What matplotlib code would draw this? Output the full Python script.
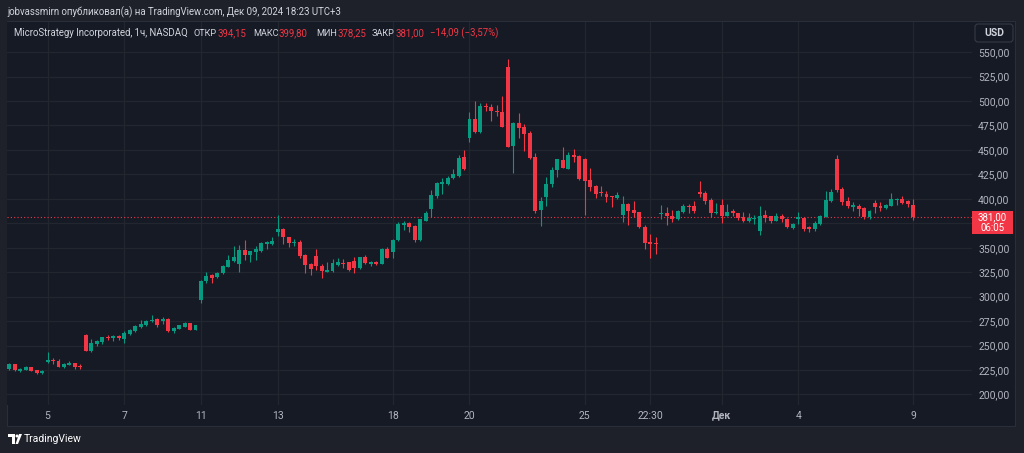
import matplotlib.pyplot as plt
import matplotlib.transforms as mtransforms
from matplotlib.patches import Rectangle, FancyBboxPatch, Polygon, Circle
import numpy as np

plt.rcParams['font.family'] = ['Roboto', 'DejaVu Sans']

# MSTR, 1h bars, Nov 4 - Dec 9 2024
opens = [226.0, 230.8, 224.3, 225.3, 227.7, 224.6, 221.6,
         233.2, 234.9, 234.2, 227.7, 230.1, 232.1, 229.4,
         260.8, 244.4, 251.9, 253.9, 259.1, 258.0, 259.4,
         256.3, 261.5, 264.9, 268.6, 271.0, 274.7, 277.1,
         274.7, 277.1, 264.9, 267.2, 269.3, 273.0, 266.2,
         296.6, 316.0, 322.1, 319.7, 323.8, 330.6, 336.5,
         333.7, 347.4, 342.6, 345.7, 347.0, 353.8, 353.5,
         365.8, 369.2, 360.7, 354.5, 355.9, 342.6, 333.1,
         341.9, 331.7, 325.6, 326.6, 332.4, 334.8, 335.1,
         336.5, 329.0, 340.2, 333.4, 335.8, 333.7, 348.7,
         345.3, 358.3, 373.6, 375.7, 372.3, 357.9, 377.7,
         389.3, 402.9, 414.9, 415.5, 421.3, 423.7, 442.5,
         462.7, 481.4, 468.1, 495.0, 494.4, 489.9, 488.9,
         535.3, 454.2, 478.0, 473.6, 467.4, 442.6, 388.7,
         402.3, 415.0, 429.6, 439.8, 431.0, 445.0, 443.9,
         441.2, 419.4, 413.3, 407.1, 405.4, 403.4, 401.0,
         383.0, 394.8, 388.7, 386.3, 371.7, 356.3, 355.3,
         384.6, 385.5, 382.6, 379.3, 386.2, 393.1, 392.4,
         406.5, 405.7, 398.9, 385.2,
         393.7, 382.5, 387.6, 385.2, 381.1, 377.0, 379.8,
         367.2, 383.5, 382.2, 377.7, 382.5, 379.8, 369.9,
         379.8, 380.1, 370.9, 368.9, 374.3, 381.8, 398.2,
         440.4, 410.4, 398.2, 391.4, 393.1, 391.0, 381.1,
         395.4, 392.7, 390.3, 393.1, 398.9, 399.5, 397.8,
         394.15]
highs = [231.8, 231.5, 227.0, 229.4, 228.4, 225.0, 224.5,
         243.7, 237.3, 236.6, 232.1, 234.2, 232.5, 231.1,
         261.5, 256.3, 255.7, 259.1, 260.4, 261.1, 260.4,
         264.5, 266.6, 270.7, 276.1, 276.1, 280.9, 277.8,
         279.5, 277.8, 269.0, 271.4, 274.1, 273.5, 271.2,
         316.7, 325.5, 323.1, 325.2, 332.0, 342.2, 352.1,
         352.8, 357.6, 346.7, 351.8, 355.5, 357.2, 361.3,
         383.5, 370.5, 361.3, 358.9, 357.9, 343.3, 334.8,
         348.4, 333.1, 335.1, 338.2, 339.2, 338.5, 335.8,
         340.2, 340.9, 342.6, 336.5, 336.8, 349.4, 350.4,
         359.0, 376.0, 377.4, 376.7, 373.3, 379.8, 387.9,
         409.1, 416.9, 421.0, 423.7, 430.2, 444.9, 449.6,
         488.9, 500.2, 497.8, 497.8, 496.7, 496.1, 505.3,
         543.1, 478.7, 488.2, 476.6, 469.5, 446.7, 402.3,
         422.8, 432.3, 440.9, 453.5, 447.7, 450.7, 444.6,
         441.9, 431.3, 414.3, 413.3, 408.5, 403.4, 406.8,
         403.0, 395.5, 397.9, 387.0, 373.4, 364.2, 360.8,
         393.5, 391.7, 389.0, 388.7, 395.2, 395.0, 397.8,
         418.0, 408.4, 400.6, 395.4,
         399.5, 394.8, 389.3, 385.9, 386.2, 385.2, 383.5,
         392.7, 388.6, 382.8, 385.2, 384.5, 380.5, 375.7,
         386.9, 381.8, 372.3, 377.4, 383.5, 408.1, 409.8,
         444.9, 411.8, 402.3, 397.2, 394.4, 392.0, 388.6,
         398.9, 396.5, 394.4, 405.7, 400.6, 402.9, 398.9,
         399.80]
lows = [225.0, 224.3, 223.3, 225.0, 223.6, 221.2, 221.0,
        232.5, 231.1, 228.0, 227.0, 229.8, 226.0, 226.0,
        244.4, 243.7, 249.9, 251.9, 255.7, 255.0, 256.0,
        252.9, 260.8, 264.2, 267.6, 270.0, 274.1, 269.0,
        272.0, 264.2, 263.2, 266.5, 269.0, 265.8, 265.8,
        293.8, 313.6, 314.3, 319.0, 323.1, 330.0, 335.8,
        325.6, 337.5, 335.1, 337.5, 346.0, 348.4, 352.8,
        362.4, 353.8, 350.4, 351.8, 339.2, 323.9, 322.2,
        327.3, 319.4, 324.9, 325.6, 331.4, 329.7, 326.6,
        324.5, 328.0, 333.4, 331.4, 332.4, 333.1, 339.2,
        339.9, 357.3, 368.2, 366.5, 356.2, 357.2, 377.0,
        381.1, 401.2, 405.0, 414.2, 420.3, 422.7, 429.5,
        457.6, 467.8, 467.1, 489.3, 480.0, 484.8, 473.2,
        452.8, 426.9, 462.0, 448.4, 440.5, 386.0, 372.7,
        393.1, 411.9, 422.8, 431.3, 430.6, 438.1, 419.4,
        383.6, 408.1, 400.6, 403.0, 397.2, 392.1, 400.3,
        375.8, 373.4, 381.2, 370.0, 348.5, 339.3, 343.4,
        379.2, 373.4, 375.8, 378.5, 385.2, 385.4, 385.7,
        401.8, 394.8, 381.0, 384.5,
        375.0, 382.2, 382.5, 378.4, 376.3, 376.3, 374.3,
        363.1, 376.7, 375.7, 377.0, 376.3, 369.9, 369.5,
        374.3, 367.5, 365.8, 367.5, 373.0, 381.1, 397.2,
        407.4, 393.7, 390.3, 388.0, 382.5, 379.8, 379.8,
        385.2, 388.0, 389.3, 392.7, 393.7, 394.8, 392.0,
        378.25]
closes = [231.1, 224.6, 226.4, 227.7, 224.0, 221.6, 224.0,
          235.2, 233.9, 228.4, 231.1, 232.5, 228.0, 227.7,
          244.8, 252.9, 254.6, 258.4, 258.0, 259.8, 258.0,
          262.5, 265.5, 270.0, 271.7, 275.4, 276.1, 271.0,
          277.5, 264.9, 267.9, 270.7, 273.4, 266.2, 270.7,
          316.0, 321.1, 319.4, 324.5, 331.3, 337.1, 340.6,
          347.4, 342.6, 346.4, 348.7, 354.5, 355.5, 356.9,
          369.2, 360.7, 355.2, 355.9, 341.6, 332.4, 328.3,
          331.7, 326.2, 327.6, 334.4, 335.4, 333.7, 327.3,
          329.0, 340.2, 334.1, 335.4, 333.4, 348.7, 339.9,
          357.9, 374.3, 375.0, 371.6, 357.9, 379.1, 385.2,
          403.6, 415.9, 417.2, 421.7, 425.1, 441.8, 430.2,
          481.4, 468.1, 495.4, 494.0, 489.3, 488.9, 473.6,
          453.5, 478.0, 472.9, 466.1, 441.5, 387.7, 397.9,
          415.3, 429.6, 440.5, 431.3, 445.0, 443.2, 420.1,
          418.7, 411.9, 405.1, 405.8, 401.7, 402.3, 404.1,
          394.8, 387.7, 385.3, 371.0, 355.3, 354.0, 353.6,
          386.0, 382.6, 379.6, 387.7, 392.6, 391.6, 387.2,
          404.5, 397.6, 385.2, 386.7,
          382.5, 386.2, 385.2, 380.1, 377.0, 380.1, 380.8,
          382.8, 380.1, 377.4, 382.2, 379.8, 370.9, 374.0,
          381.8, 369.2, 369.5, 375.7, 382.2, 398.9, 406.7,
          409.1, 396.8, 392.4, 393.7, 389.7, 381.1, 387.6,
          392.0, 390.3, 393.7, 399.9, 400.2, 396.1, 394.4,
          381.00]

# bar index where each time label sits
tick_bars = [7, 21, 35, 49, 70, 84, 105, 117, 130, 144, 165]
tick_labels = ['5', '7', '11', '13', '18', '20', '25', '22:30', 'Дек', '4', '9']
price_ticks = list(range(200, 551, 25))

change = -14.09
change_pct = -3.57
countdown = '06:05'

W, H = 1024, 453
outer_bg = '#1e212a'
chart_bg = '#161a25'
grid_c = '#22262f'
green = '#089981'
red = '#f23645'
label_c = '#b2b5be'
text_c = '#d1d4dc'


def fmt(v):
    return f"{v:.2f}".replace('.', ',').replace('-', '−')


fig = plt.figure(figsize=(W / 100, H / 100), dpi=100, facecolor=outer_bg)

# chart panel behind everything (pixel coords)
bg = fig.add_axes([0, 0, 1, 1], zorder=0)
bg.set_xlim(0, W)
bg.set_ylim(H, 0)
bg.axis('off')
bg.add_patch(Rectangle((7, 21), 1008, 405, facecolor=chart_bg,
                       edgecolor='#2a2e39', lw=0.8))

# overlay for legend / header texts (pixel coords)
fg = fig.add_axes([0, 0, 1, 1], zorder=10)
fg.set_xlim(0, W)
fg.set_ylim(H, 0)
fg.axis('off')
fg.patch.set_alpha(0)

# main plot area
x0, x1, y0, y1 = 7, 972, 22, 405
ax = fig.add_axes([x0 / W, 1 - y1 / H, (x1 - x0) / W, (y1 - y0) / H], zorder=5)
ax.set_facecolor(chart_bg)

o = np.array(opens)
h = np.array(highs)
l = np.array(lows)
c = np.array(closes)
x = np.arange(len(o))
up = c >= o
cols = np.where(up, green, red)

body = np.abs(c - o)
ax.vlines(x, l, h, colors=cols, lw=0.8, zorder=3)
ax.bar(x, np.maximum(body, 0.9), bottom=np.minimum(o, c) - np.where(body < 0.9, 0.45, 0),
       width=0.72, color=cols, lw=0, zorder=4)

# last price dotted line
ax.axhline(c[-1], color=red, lw=0.8, ls=(0, (1, 2)), zorder=2)

ax.set_xlim(-0.4, 175.7)
ax.set_ylim(189.2, 580.8)

ax.set_xticks(tick_bars)
ax.set_xticklabels(tick_labels)
for t in ax.get_xticklabels():
    if t.get_text() == 'Дек':
        t.set_fontweight('bold')

# price labels; the one hidden under the last-price tag is left blank
tag_lo, tag_hi = c[-1] - 17.3, c[-1] + 6.5
ax.set_yticks(price_ticks)
ax.set_yticklabels(['' if tag_lo - 4 < v < tag_hi + 4 else fmt(v) for v in price_ticks])
ax.yaxis.tick_right()
ax.tick_params(axis='both', length=0, colors=label_c, labelsize=7.5)
ax.tick_params(axis='x', pad=4)
ax.tick_params(axis='y', pad=4.5)
ax.grid(True, color=grid_c, lw=0.9, zorder=0)
for s in ax.spines.values():
    s.set_visible(False)

# last price tag on the price scale
tr = mtransforms.blended_transform_factory(ax.transAxes, ax.transData)
tag_x = 1.0 + 20.5 / (x1 - x0)
ax.add_patch(Rectangle((1.0, tag_lo), 41 / (x1 - x0), tag_hi - tag_lo, transform=tr,
                       facecolor=red, edgecolor='none', clip_on=False, zorder=5))
ax.text(tag_x, c[-1] + 0.6, fmt(c[-1]), transform=tr, ha='center', va='center',
        color='white', fontsize=7, zorder=6, clip_on=False)
ax.text(tag_x, c[-1] - 11.2, countdown, transform=tr, ha='center', va='center',
        color='white', fontsize=7, zorder=6, clip_on=False)

# USD button
fg.add_patch(FancyBboxPatch((975, 24), 38, 18, boxstyle='round,pad=0,rounding_size=3',
                            facecolor=chart_bg, edgecolor='#363a45', lw=0.8))
fg.text(994, 33.5, 'USD', ha='center', va='center', color=text_c,
        fontsize=7.5, fontweight='bold')

# header
fg.text(7, 12, 'jobvassmirn опубликовал(а) на TradingView.com, Дек 09, 2024 18:23 UTC+3',
        va='center', color=text_c, fontsize=6.95)

# legend line: each value follows its label directly
fg.text(14, 33, 'MicroStrategy Incorporated, 1ч, NASDAQ', va='center', color=text_c, fontsize=6.95)
legend = [(194, 'ОТКР', o[-1]), (253, 'МАКС', h[-1]),
          (316, 'МИН', l[-1]), (372, 'ЗАКР', c[-1])]
for lx, name, val in legend:
    lab = fg.text(lx, 33, name, va='center', color=text_c, fontsize=6.6)
    fg.annotate(fmt(val), xy=(1, 0.5), xycoords=lab, xytext=(0.3, 0), textcoords='offset points',
                va='center', color=red, fontsize=6.95)
fg.text(430, 33, f"{fmt(change)} ({fmt(change_pct)}%)", va='center', color=red, fontsize=6.95)

# footer logo
fg.add_patch(Polygon([(8, 434), (15, 434), (15, 444), (12, 444), (12, 437), (8, 437)],
                     closed=True, facecolor='white', edgecolor='none'))
fg.add_patch(Circle((17, 436), 1.5, facecolor='white', edgecolor='none'))
fg.add_patch(Polygon([(19, 434), (22, 434), (18, 444), (15.5, 444)],
                     closed=True, facecolor='white', edgecolor='none'))
fg.text(24, 439.5, 'TradingView', va='center', color='white', fontsize=7.5)

fig.savefig('out.png', dpi=100, facecolor=outer_bg)
